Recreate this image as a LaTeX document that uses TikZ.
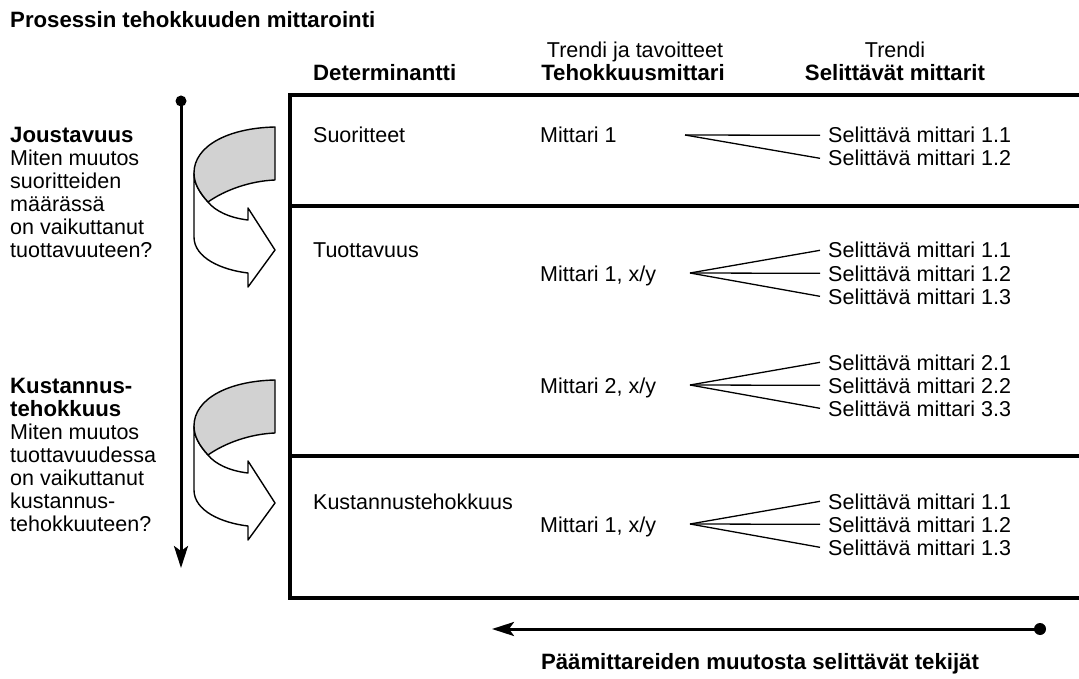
\documentclass[tikz,border=0pt]{standalone}
\usepackage{fontspec}
\setmainfont{Liberation Sans}
\usetikzlibrary{arrows.meta}
\begin{document}
\begin{tikzpicture}[x=1pt,y=-1pt,
  font=\fontsize{21.5}{23}\selectfont,
  txt/.style={anchor=base west, inner sep=0pt},
  ctxt/.style={anchor=base, inner sep=0pt},
  bold/.style={font=\fontsize{22.2}{23}\selectfont\bfseries},
  bx/.style={line width=4pt},
  fan/.style={line width=1.3pt},
  ribbon/.style={line width=1.4pt, line join=round},
  bigarrow/.style={line width=3pt, -{Stealth[length=22pt,width=14pt,inset=5pt]}},
  pics/curvarrow/.style={code={
    \draw[ribbon, fill=white] (194,173) -- (194,237) .. controls (194,258) and (222,270) .. (248,273)
      -- (248,287) -- (275,250) -- (248,208) -- (248,220)
      .. controls (230,218) and (215,211) .. (208,202)
      .. controls (199,192) and (194,183) .. (194,173) -- cycle;
    \draw[ribbon, fill=gray!35] (275,127) .. controls (228,128) and (194,146) .. (194,173)
      .. controls (194,183) and (199,192) .. (208,202)
      .. controls (225,190) and (250,181) .. (275,180) -- cycle;
  }}]
\useasboundingbox (0,0) rectangle (1079,679);

% title and headers
\node[txt, bold] (title) at (10,28) {Prosessin tehokkuuden mittarointi};
\node[ctxt] (h1) at (635,58) {Trendi ja tavoitteet};
\node[ctxt, bold] (h2) at (633,81) {Tehokkuusmittari};
\node[txt, bold] (h0) at (313,81) {Determinantti};
\node[ctxt] (h3) at (895,58) {Trendi};
\node[ctxt, bold] (h4) at (895,81) {Selittävät mittarit};

% table frame
\draw[bx] (1079,95) -- (290,95) -- (290,598) -- (1079,598);
\draw[bx] (290,206) -- (1079,206);
\draw[bx] (290,456) -- (1079,456);

% left texts
\node[txt, bold] (l1) at (10,143) {Joustavuus};
\node[txt] (l2) at (10,166) {Miten muutos};
\node[txt] (l3) at (10,189) {suoritteiden};
\node[txt] (l4) at (10,212) {määrässä};
\node[txt] (l5) at (10,235) {on vaikuttanut};
\node[txt] (l6) at (10,258) {tuottavuuteen?};

\node[txt, bold] (k1) at (10,393) {Kustannus-};
\node[txt, bold] (k2) at (10,416) {tehokkuus};
\node[txt] (k3) at (10,439) {Miten muutos};
\node[txt] (k4) at (10,462) {tuottavuudessa};
\node[txt] (k5) at (10,485) {on vaikuttanut};
\node[txt] (k6) at (10,508) {kustannus-};
\node[txt] (k7) at (10,531) {tehokkuuteen?};

% vertical arrow
\coordinate (vtop) at (181,101);
\coordinate (vbot) at (181,568);
\draw[bigarrow] (vtop) -- (vbot);
\fill (vtop) circle (5.5);

% curved arrows
\pic at (0,0) {curvarrow};
\pic at (0,253) {curvarrow};

% determinants
\node[txt] (d1) at (313,143) {Suoritteet};
\node[txt] (d2) at (313,258) {Tuottavuus};
\node[txt] (d3) at (313,509) {Kustannustehokkuus};

% measures
\node[txt] (m1) at (540,143) {Mittari 1};
\node[txt] (m2) at (540,281) {Mittari 1, x/y};
\node[txt] (m3) at (540,393) {Mittari 2, x/y};
\node[txt] (m4) at (540,532) {Mittari 1, x/y};

% explanatory measures
\node[txt] (s11) at (828,143) {Selittävä mittari 1.1};
\node[txt] (s12) at (828,166) {Selittävä mittari 1.2};
\node[txt] (t11) at (828,258) {Selittävä mittari 1.1};
\node[txt] (t12) at (828,281) {Selittävä mittari 1.2};
\node[txt] (t13) at (828,304) {Selittävä mittari 1.3};
\node[txt] (u21) at (828,370) {Selittävä mittari 2.1};
\node[txt] (u22) at (828,393) {Selittävä mittari 2.2};
\node[txt] (u33) at (828,416) {Selittävä mittari 3.3};
\node[txt] (k11) at (828,509) {Selittävä mittari 1.1};
\node[txt] (k12) at (828,532) {Selittävä mittari 1.2};
\node[txt] (k13) at (828,555) {Selittävä mittari 1.3};

% fans
\coordinate (f1) at (685,135);
\draw[fan] (f1) -- ([xshift=-8pt]s11.west);
\draw[fan] (f1) -- ([xshift=-8pt]s12.west);
\coordinate (f2) at (690,273);
\foreach \n in {t11,t12,t13} \draw[fan] (f2) -- ([xshift=-8pt]\n.west);
\coordinate (f3) at (690,385);
\foreach \n in {u21,u22,u33} \draw[fan] (f3) -- ([xshift=-8pt]\n.west);
\coordinate (f4) at (690,524);
\foreach \n in {k11,k12,k13} \draw[fan] (f4) -- ([xshift=-8pt]\n.west);

% bottom arrow
\coordinate (bstart) at (1040,629);
\coordinate (bend) at (492,629);
\draw[bigarrow] (bstart) -- (bend);
\fill (bstart) circle (6);
\node[ctxt, bold] (bl) at (760,669) {Päämittareiden muutosta selittävät tekijät};
\end{tikzpicture}
\end{document}
